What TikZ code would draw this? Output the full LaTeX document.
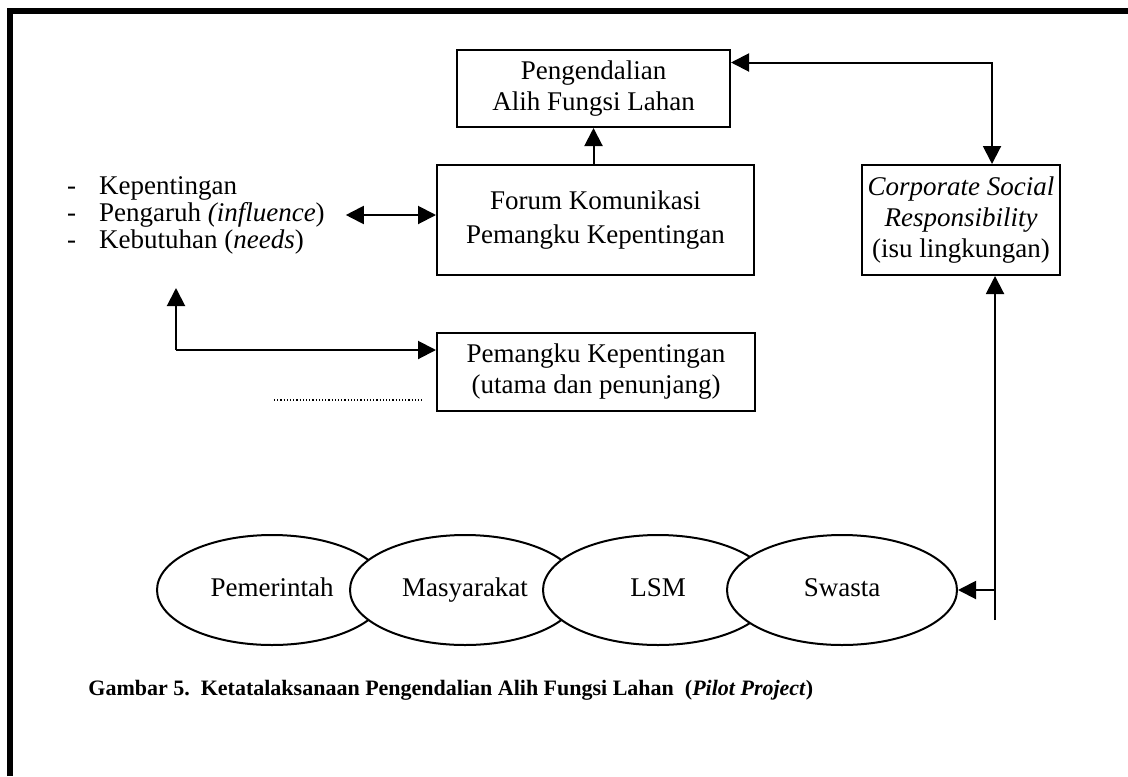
\documentclass[tikz,border=0pt]{standalone}
\usepackage{fontspec}
\setmainfont{Liberation Serif}
\usetikzlibrary{arrows.meta,shapes.geometric}

\begin{document}
\begin{tikzpicture}[x=0.5pt, y=-0.5pt,
  font=\fontsize{13.5}{15.5}\selectfont,
  box/.style={draw, line width=1pt, align=center, inner sep=0pt},
  oval/.style={draw, ellipse, fill=white, line width=1pt, inner sep=0pt,
    minimum width=115pt, minimum height=55pt, text height=9.5pt, text depth=3pt},
  arrow/.style={line width=1pt, -{Triangle[width=9pt,length=9pt]}},
  twoway/.style={line width=1pt, {Triangle[width=9pt,length=9pt]}-{Triangle[width=9pt,length=9pt]}}]
  \useasboundingbox (0,0) rectangle (1128,776);
  \draw [line width=3.25pt] (10,776) -- (10,11) -- (1128,11);
  \node [box, minimum width=136.5pt, minimum height=38.5pt] (ctrl) at (593.5,88.5) {Pengendalian\\Alih Fungsi Lahan};
  \node [box, minimum width=158.5pt, minimum height=55pt] (forum) at (595.5,220) {Forum Komunikasi\\[1.5pt]Pemangku Kepentingan};
  \node [box, minimum width=99pt, minimum height=55pt] (csr) at (961,220) {\textit{Corporate Social}\\\textit{Responsibility}\\(isu lingkungan)};
  \node [box, minimum width=159pt, minimum height=39pt] (stake) at (596,372) {Pemangku Kepentingan\\(utama dan penunjang)};
  \node [anchor=west, align=left, font=\fontsize{13.5}{13.5}\selectfont] (list) at (60,215)
    {\makebox[16pt][l]{-}Kepentingan\\
     \makebox[16pt][l]{-}Pengaruh \textit{(influence})\\
     \makebox[16pt][l]{-}Kebutuhan (\textit{needs})};
  \foreach \name/\lbl/\cx in {gov/Pemerintah/272, comm/Masyarakat/465, ngo/LSM/658, priv/Swasta/842}
    \node [oval] (\name) at (\cx,590) {\lbl};
  \coordinate (bend) at (176,350);
  \coordinate (tip) at (176,288);
  \coordinate (foot) at (995,620);
  \draw [arrow] (forum.north -| ctrl.south) -- (ctrl.south);
  \draw [twoway] ([yshift=13pt]ctrl.east) -| ([xshift=15.5pt]csr.north);
  \draw [twoway] ([xshift=7pt]list.east) -- (forum.west |- list.east);
  \draw [arrow] (bend) -- (tip);
  \draw [arrow] (bend) -- (stake.west |- bend);
  \draw [line width=0.6pt, densely dotted] (274,400) -- (423,400);
  \draw [arrow] (foot) -- (foot |- csr.south);
  \draw [arrow] (foot |- priv.east) -- (priv.east);
  \node [anchor=west, inner sep=0pt, font=\fontsize{11}{13}\selectfont\bfseries] (caption) at (88,690)
    {Gambar 5.\ \ Ketatalaksanaan Pengendalian Alih Fungsi Lahan\ \ (\textit{Pilot Project})};
\end{tikzpicture}
\end{document}
